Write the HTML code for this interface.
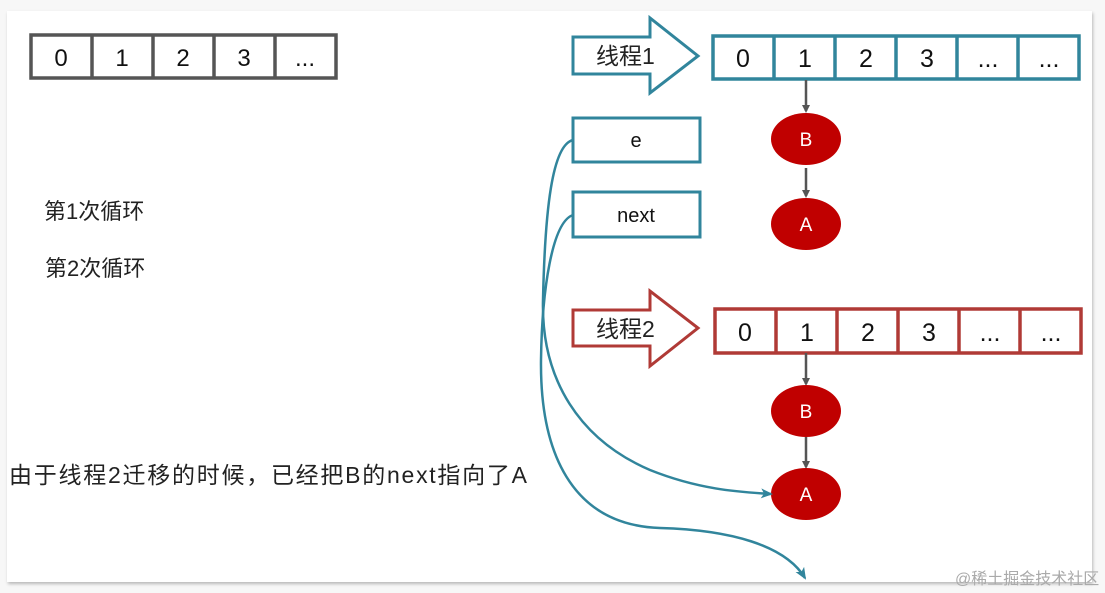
<!DOCTYPE html>
<html><head><meta charset="utf-8"><style>
html,body{margin:0;padding:0;background:#f7f7f7;width:1105px;height:593px;overflow:hidden}
.slide{position:absolute;left:7px;top:11px;width:1085px;height:571px;background:#fff;box-shadow:1px 2px 3px rgba(0,0,0,.25)}
svg{position:absolute;left:0;top:0}
text{font-family:"Liberation Sans","Noto Sans CJK SC",sans-serif}
</style></head><body>
<div class="slide"></div>
<svg width="1105" height="593" viewBox="0 0 1105 593">
<defs>
<marker id="ag" markerWidth="8" markerHeight="8" refX="6" refY="4" orient="auto" markerUnits="userSpaceOnUse"><path d="M0,0 L8,4 L0,8 Z" fill="#555"/></marker>
<marker id="at" markerWidth="12" markerHeight="10" refX="10" refY="5" orient="auto" markerUnits="userSpaceOnUse"><path d="M0,0 L12,5 L0,10 L3,5 Z" fill="#31859c"/></marker>
</defs>
<g stroke="#555" stroke-width="3.5" fill="#fff">
<rect x="31" y="35" width="305" height="43"/>
<line x1="92" y1="35" x2="92" y2="78"/><line x1="153" y1="35" x2="153" y2="78"/><line x1="214" y1="35" x2="214" y2="78"/><line x1="275" y1="35" x2="275" y2="78"/>
</g>
<g font-size="24" text-anchor="middle" fill="#111">
<text x="61" y="66">0</text><text x="122" y="66">1</text><text x="183" y="66">2</text><text x="244" y="66">3</text><text x="305" y="66">...</text>
</g>
<path d="M573,37 L650,37 L650,18 L698,56 L650,93 L650,74 L573,74 Z" fill="#fff" stroke="#31859c" stroke-width="3"/>
<text x="596" y="64" font-size="23" fill="#222">线程1</text>
<g stroke="#31859c" stroke-width="3.5" fill="#fff">
<rect x="713" y="36" width="366" height="43"/>
<line x1="774" y1="36" x2="774" y2="79"/><line x1="835" y1="36" x2="835" y2="79"/><line x1="896" y1="36" x2="896" y2="79"/><line x1="957" y1="36" x2="957" y2="79"/><line x1="1018" y1="36" x2="1018" y2="79"/>
</g>
<g font-size="25" text-anchor="middle" fill="#111">
<text x="743" y="67">0</text><text x="805" y="67">1</text><text x="866" y="67">2</text><text x="927" y="67">3</text><text x="988" y="67">...</text><text x="1049" y="67">...</text>
</g>
<line x1="806" y1="80" x2="806" y2="111" stroke="#555" stroke-width="2.5" marker-end="url(#ag)"/>
<ellipse cx="806" cy="139" rx="35" ry="26" fill="#c00000"/>
<text x="806" y="146" font-size="19" fill="#fff" text-anchor="middle">B</text>
<line x1="806" y1="168" x2="806" y2="196" stroke="#555" stroke-width="2.5" marker-end="url(#ag)"/>
<ellipse cx="806" cy="224" rx="35" ry="26" fill="#c00000"/>
<text x="806" y="231" font-size="19" fill="#fff" text-anchor="middle">A</text>
<rect x="573" y="118" width="127" height="44" fill="#fff" stroke="#31859c" stroke-width="3"/>
<text x="636" y="147" font-size="20" text-anchor="middle" fill="#111">e</text>
<rect x="573" y="192" width="127" height="45" fill="#fff" stroke="#31859c" stroke-width="3"/>
<text x="636" y="222" font-size="20" text-anchor="middle" fill="#111">next</text>
<path d="M573,310 L650,310 L650,291 L698,328 L650,366 L650,346 L573,346 Z" fill="#fff" stroke="#b03a36" stroke-width="3"/>
<text x="596" y="337" font-size="23" fill="#222">线程2</text>
<g stroke="#b03a36" stroke-width="3.5" fill="#fff">
<rect x="715" y="309" width="366" height="44"/>
<line x1="776" y1="309" x2="776" y2="353"/><line x1="837" y1="309" x2="837" y2="353"/><line x1="898" y1="309" x2="898" y2="353"/><line x1="959" y1="309" x2="959" y2="353"/><line x1="1020" y1="309" x2="1020" y2="353"/>
</g>
<g font-size="25" text-anchor="middle" fill="#111">
<text x="745" y="341">0</text><text x="807" y="341">1</text><text x="868" y="341">2</text><text x="929" y="341">3</text><text x="990" y="341">...</text><text x="1051" y="341">...</text>
</g>
<line x1="806" y1="353" x2="806" y2="384" stroke="#555" stroke-width="2.5" marker-end="url(#ag)"/>
<ellipse cx="806" cy="411" rx="35" ry="26" fill="#c00000"/>
<text x="806" y="418" font-size="19" fill="#fff" text-anchor="middle">B</text>
<line x1="806" y1="437" x2="806" y2="467" stroke="#555" stroke-width="2.5" marker-end="url(#ag)"/>
<ellipse cx="806" cy="494" rx="35" ry="26" fill="#c00000"/>
<text x="806" y="501" font-size="19" fill="#fff" text-anchor="middle">A</text>
<path d="M573,140 C552,145 545,210 543,300 C541,380 580,440 650,470 C700,490 740,492 771,494" fill="none" stroke="#31859c" stroke-width="2.5" marker-end="url(#at)"/>
<path d="M573,215 C552,222 542,290 541,360 C540,450 570,525 660,528 C730,530 785,545 805,578" fill="none" stroke="#31859c" stroke-width="2.5" marker-end="url(#at)"/>
<text x="44" y="219" font-size="22" fill="#222">第1次循环</text>
<text x="45" y="276" font-size="22" fill="#222">第2次循环</text>
<text x="9" y="483" font-size="23" fill="#222" textLength="518">由于线程2迁移的时候，已经把B的next指向了A</text>
<text x="955" y="584" font-size="16" fill="#aaa">@稀土掘金技术社区</text>
</svg>
</body></html>
